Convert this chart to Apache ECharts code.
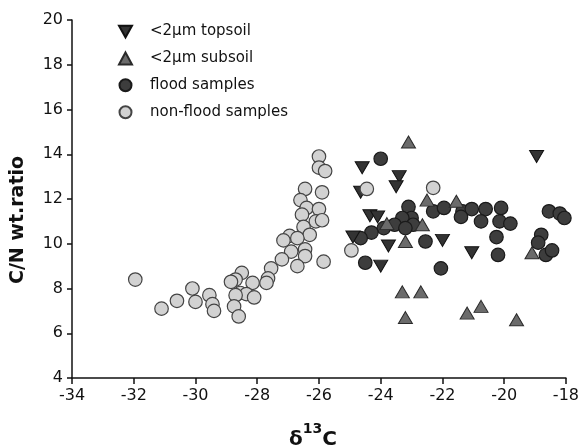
<!DOCTYPE html>
<html>
<head>
<meta charset="utf-8">
<script src="https://cdn.jsdelivr.net/npm/echarts@6/dist/echarts.min.js"></script>
<style>
html,body{margin:0;padding:0;background:#fff;}
#c{width:582px;height:447px;}
</style>
</head>
<body>
<div id="c"></div>
<script>
var seriesNames = ['<2\u03bcm topsoil', '<2\u03bcm subsoil', 'flood samples', 'non-flood samples'];
var xTicks = [-34, -32, -30, -28, -26, -24, -22, -20, -18];
var yTicks = [4, 6, 8, 10, 12, 14, 16, 18, 20];

var topsoil = [
  [-24.6, 13.4], [-23.4, 13.0], [-23.5, 12.55], [-24.65, 12.3], [-18.95, 13.9],
  [-24.35, 11.25], [-24.1, 11.2], [-24.9, 10.3], [-23.75, 9.9], [-24.0, 9.0],
  [-22.0, 10.15], [-21.05, 9.6]
];
var subsoil = [
  [-23.1, 14.55], [-22.5, 11.95], [-21.55, 11.9], [-22.65, 10.85], [-23.8, 10.9],
  [-23.2, 10.1], [-23.3, 7.85], [-22.7, 7.85], [-23.2, 6.7], [-21.2, 6.9],
  [-20.75, 7.2], [-19.6, 6.6], [-19.1, 9.6]
];
var flood = [
  [-24.0, 13.8], [-23.1, 11.65], [-22.3, 11.45], [-21.95, 11.6], [-21.35, 11.45],
  [-21.05, 11.55], [-20.6, 11.55], [-20.1, 11.6], [-18.55, 11.45], [-18.2, 11.35],
  [-18.05, 11.15], [-20.75, 11.0], [-20.15, 11.0], [-19.8, 10.9], [-21.4, 11.2],
  [-23.0, 11.15], [-23.3, 11.15], [-23.55, 10.85], [-23.9, 10.7], [-24.3, 10.5],
  [-24.65, 10.25], [-22.95, 10.85], [-23.2, 10.7], [-22.55, 10.1], [-20.25, 10.3],
  [-20.2, 9.5], [-24.5, 9.15], [-22.05, 8.9], [-18.8, 10.4], [-18.9, 10.05],
  [-18.65, 9.5], [-18.45, 9.7]
];
var nonflood = [
  [-26.0, 13.9], [-26.0, 13.4], [-25.8, 13.25], [-26.45, 12.45], [-25.9, 12.3],
  [-26.6, 11.95], [-26.4, 11.6], [-26.0, 11.55], [-26.55, 11.3], [-26.1, 11.0],
  [-25.9, 11.05], [-26.5, 10.75], [-26.95, 10.35], [-26.3, 10.4], [-26.7, 10.25],
  [-26.9, 9.65], [-26.45, 9.75], [-26.45, 9.45], [-27.2, 9.3], [-26.7, 9.0],
  [-25.85, 9.2], [-24.95, 9.7], [-27.55, 8.9], [-27.65, 8.45], [-27.7, 8.25],
  [-28.5, 8.7], [-28.7, 8.4], [-28.85, 8.3], [-28.15, 8.25], [-28.55, 7.8],
  [-28.35, 7.75], [-28.1, 7.6], [-28.7, 7.7], [-28.75, 7.2], [-28.6, 6.75],
  [-31.95, 8.4], [-30.1, 8.0], [-29.55, 7.7], [-30.0, 7.4], [-30.6, 7.45],
  [-31.1, 7.1], [-29.45, 7.3], [-29.4, 7.0], [-27.15, 10.15], [-24.45, 12.45],
  [-22.3, 12.5]
];

var chart = echarts.init(document.getElementById('c'), null, {renderer: 'canvas'});
var font = 'DejaVu Sans';
var downTri = 'path://M0,0 L10,0 L5,9 Z';
chart.setOption({
  animation: false,
  backgroundColor: '#fff',
  grid: {left: 72, right: 12, top: 20, bottom: 69},
  legend: {
    orient: 'vertical',
    left: 113, top: 19,
    itemWidth: 13, itemHeight: 12, itemGap: 11.9,
    data: [
      {name: seriesNames[0], icon: downTri},
      {name: seriesNames[1], icon: 'triangle'},
      {name: seriesNames[2], icon: 'circle'},
      {name: seriesNames[3], icon: 'circle'}
    ],
    textStyle: {fontFamily: font, fontSize: 15, color: '#111', padding: [0, 0, 0, 13]}
  },
  xAxis: {
    type: 'value', min: xTicks[0], max: xTicks[xTicks.length - 1], interval: 2,
    splitLine: {show: false},
    axisLine: {onZero: false, lineStyle: {color: '#111', width: 1.5}},
    axisTick: {length: 6, lineStyle: {color: '#111', width: 1.5}},
    axisLabel: {fontFamily: font, fontSize: 16, color: '#111', margin: 10}
  },
  yAxis: {
    type: 'value', min: yTicks[0], max: yTicks[yTicks.length - 1], interval: 2,
    splitLine: {show: false},
    axisLine: {show: true, onZero: false, lineStyle: {color: '#111', width: 1.5}},
    axisTick: {show: true, length: 5, lineStyle: {color: '#111', width: 1.5}},
    axisLabel: {fontFamily: font, fontSize: 16, color: '#111', margin: 9}
  },
  graphic: [
    {
      type: 'text', rotation: Math.PI / 2,
      x: 18, y: 220,
      style: {
        text: 'C/N wt.ratio', font: 'bold 19px "DejaVu Sans"', fill: '#111',
        textAlign: 'center', textVerticalAlign: 'middle'
      }
    },
    {
      type: 'text', x: 313, y: 436,
      style: {
        text: '{a|\u03b4}{s|13}{a|C}',
        textAlign: 'center', textVerticalAlign: 'middle', fill: '#111',
        rich: {
          a: {font: 'bold 20px "DejaVu Sans"', fill: '#111', lineHeight: 28, verticalAlign: 'bottom'},
          s: {font: 'bold 14px "DejaVu Sans"', fill: '#111', lineHeight: 14, verticalAlign: 'top'}
        }
      }
    }
  ],
  series: [
    {
      name: seriesNames[2], type: 'scatter', data: flood, symbol: 'circle', symbolSize: 13.5,
      itemStyle: {color: '#3d3d3d', borderColor: '#1a1a1a', borderWidth: 1.2, opacity: 1}
    },
    {
      name: seriesNames[0], type: 'scatter', data: topsoil, symbol: 'triangle', symbolRotate: 180, symbolSize: [14, 12],
      itemStyle: {color: '#333333', borderColor: '#111', borderWidth: 1, opacity: 1}
    },
    {
      name: seriesNames[1], type: 'scatter', data: subsoil, symbol: 'triangle', symbolSize: [14, 12],
      itemStyle: {color: '#6b6b6b', borderColor: '#2a2a2a', borderWidth: 1, opacity: 1}
    },
    {
      name: seriesNames[3], type: 'scatter', data: nonflood, symbol: 'circle', symbolSize: 13.5,
      itemStyle: {color: '#d2d2d2', borderColor: '#444', borderWidth: 1.2, opacity: 1}
    }
  ]
});
</script>
</body>
</html>
